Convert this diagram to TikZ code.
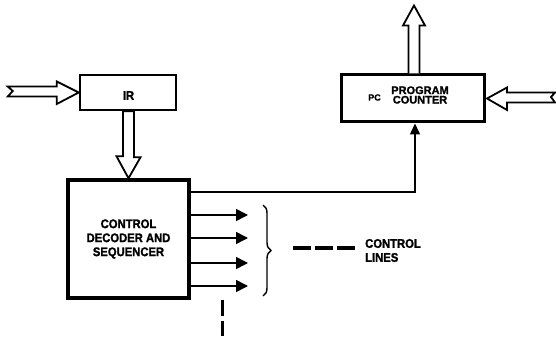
\documentclass[tikz,border=0pt]{standalone}
\usepackage{fontspec}
\setmainfont{Liberation Sans}[BoldFeatures={FakeBold=1.5}]
\newfontfamily\condfont{Liberation Sans}[FakeStretch=0.9,BoldFeatures={FakeBold=1.5,FakeStretch=0.9}]
\usetikzlibrary{arrows.meta,decorations.pathreplacing,calc}
\begin{document}
\begin{tikzpicture}[x=1pt,y=-1pt,
  box/.style={draw,line width=#1,inner sep=0pt,fill=white},
  fat/.style={draw,line width=1.8pt,fill=white,line join=miter},
  ctl/.style={line width=1.5pt},
  outarr/.style={line width=1.5pt,-{Triangle[length=12pt,width=12pt]}},
  lbl/.style={font=\condfont\bfseries\fontsize{12.5}{14}\selectfont,align=center,inner sep=0pt},
  thickdash/.style={line width=3pt,dash pattern=on 16pt off 5pt}]
\useasboundingbox (0,0) rectangle (556,339);

% boxes
\node[box=2.5pt,minimum width=96pt,minimum height=35pt] (ir) at (128,92.5) {};
\node[lbl] (irt) at (128.5,95.5) {IR};
\node[box=3.5pt,minimum width=121pt,minimum height=118pt] (ctrl) at (128.5,239) {};
\node[lbl] (ctrlt) at (128.5,239) {CONTROL\\DECODER AND\\SEQUENCER};
\node[box=3pt,minimum width=143pt,minimum height=47pt] (pc) at (412.5,98.5) {};
\node[lbl,font=\bfseries\fontsize{9}{9}\selectfont] (pct) at (374.5,97.5) {PC};
\node[lbl,font=\bfseries\fontsize{11}{9.5}\selectfont] (pcn) at (420,95) {PROGRAM\\COUNTER};

% input arrow to IR
\draw[fat] (ir.west) -- ++(-22,-11) -- ++(0,5) -- ++(-49,0) -- ++(5,4.5) -- ++(-5,5.5)
  -- ++(49,0) -- ++(0,7.5) -- cycle;
% IR to control
\draw[fat] (ctrl.north) -- ++(-12,-22) -- ++(6.5,0) -- (ir.south -| {$(ctrl.north)+(-5.5,0)$}) -- ++(11,0)
  -- ++(0,46) -- ++(6.5,0) -- cycle;
% output of PC upwards
\coordinate (pctop) at ([xshift=1.5pt]pc.north);
\draw[fat] (pctop) ++(-5.5,0) -- ++(0,-48) -- ++(-5.5,0) -- ++(11,-20) -- ++(11,20) -- ++(-5.5,0) -- ++(0,48);
% input arrow to PC from right
\draw[fat] ([xshift=1.5pt]pc.east) -- ++(20,-11) -- ++(0,5) -- ++(48,0) -- ++(-4,4.5) -- ++(4,5.5)
  -- ++(-48,0) -- ++(0,7.5) -- cycle;

% control to PC
\draw[ctl,-{Triangle[length=11pt,width=10pt]}] (ctrl.north east |- 0,192) -- (415,192) -- (pc.south -| 415,0);

% control outputs
\foreach \y [count=\i] in {215,238,263,286} {
  \coordinate (o\i) at (248,\y);
  \draw[outarr] (ctrl.east |- 0,\y) -- (o\i);
}
% brace
\coordinate (bt) at (263,205);
\coordinate (bb) at (263,296);
\draw[line width=1.4pt,decorate,decoration={brace,amplitude=8pt}] (bt) -- (bb);

% vertical dashed
\coordinate (vd) at (222,336);
\draw[thickdash] (ctrl.south -| vd) -- (vd);

% legend
\coordinate (la) at (293,248);
\coordinate (lb) at (355,248);
\draw[thickdash,line width=3.2pt,dash pattern=on 17.5pt off 4.5pt] (la) -- (lb);
\node[lbl,align=left,anchor=west] (legt) at (365,250.5) {CONTROL\\LINES};
\end{tikzpicture}
\end{document}
